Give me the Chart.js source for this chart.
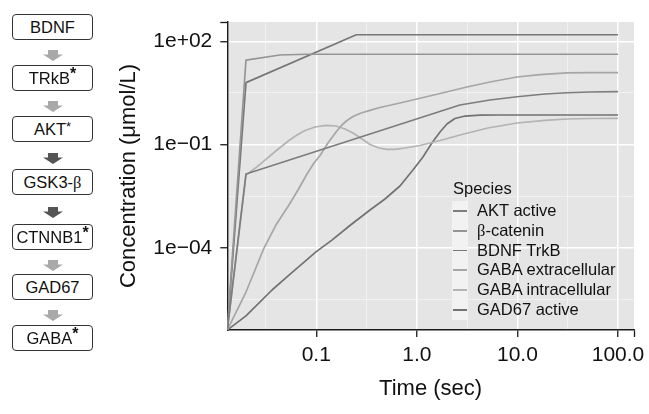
<!DOCTYPE html>
<html>
<head>
<meta charset="utf-8">
<script src="https://cdn.jsdelivr.net/npm/chart.js@4.4.1/dist/chart.umd.min.js"></script>
<style>
  html, body { margin: 0; padding: 0; background: #fff; }
  #wrap { position: relative; width: 649px; height: 414px; overflow: hidden;
          font-family: "Liberation Sans", Arial, sans-serif; color: #111; }
  #chart { position: absolute; left: 0; top: 0; }
  .box { position: absolute; left: 12px; width: 81px; height: 26px; box-sizing: border-box;
         border: 1.3px solid #333; border-radius: 4px; background: #fff;
         font-size: 16.5px; line-height: 24px; text-align: center; white-space: nowrap; }
  .box sup { font-size: 16px; font-weight: bold; line-height: 0; vertical-align: 5px; }
  .box .sm { font-size: 13px; vertical-align: 4px; font-weight: normal; }
  .greek { font-family: "Liberation Serif", "DejaVu Serif", serif; }
  .arrow { position: absolute; left: 43px; }
  #legend { position: absolute; left: 452px; top: 178px; font-size: 16.5px; }
  #legend .ttl { position: absolute; left: 1px; top: 0; line-height: 20px; white-space: nowrap; }
  #legend .key { position: absolute; left: 0; width: 16px; height: 19.8px; background: #f2f2f2; }
  #legend .key i { position: absolute; left: 1px; right: 1px; top: 9px; height: 1.8px; }
  #legend .lab { position: absolute; left: 25px; line-height: 19.8px; white-space: nowrap; }
</style>
</head>
<body>
<div id="wrap">
  <canvas id="chart" width="649" height="414"></canvas>
  <div id="diagram"></div>
  <div id="legend"></div>
</div>
<script>
// ---- values ----
// time in sec, concentration in umol/L. The run starts at t = 0, c = 0, which the
// original (ggplot, log axes) pins to the lower-left panel corner; we do the same.
const bdnfTime = [0, 0.02, 0.25, 100];
const bdnfConc = [0, 6.3, 155, 155];

const cateninTime = [0, 0.02, 0.0435, 0.08, 100];
const cateninConc = [0, 28.5, 40, 42, 42];

const aktTime = [0, 0.02, 2.68, 5.33, 9.9, 18.8, 31, 52.6, 100];
const aktConc = [0, 0.0139, 1.41, 1.97, 2.45, 2.94, 3.2, 3.36, 3.43];

const gabaInTime = [0, 0.02, 0.0252, 0.0309, 0.0407, 0.0535, 0.0643, 0.0772, 0.0971, 0.125, 0.157,
  0.193, 0.232, 0.285, 0.342, 0.42, 0.504, 0.605, 0.762, 1.07, 1.7, 2.68, 5.08, 9.9, 18.8, 31, 52.6, 100];
const gabaInConc = [0, 0.013, 0.0214, 0.0354, 0.0692, 0.131, 0.189, 0.255, 0.323, 0.361, 0.345,
  0.282, 0.216, 0.1445, 0.1, 0.0791, 0.0725, 0.0725, 0.0791, 0.0935, 0.131, 0.189, 0.302, 0.422, 0.505, 0.551, 0.57, 0.578];

const gabaExTime = [0, 0.02, 0.0246, 0.0302, 0.0397, 0.0535, 0.0658, 0.0809, 0.0949, 0.109, 0.1306,
  0.16, 0.18, 0.202, 0.232, 0.279, 0.342, 0.43, 0.679, 1, 1.7, 3.15, 5.33, 9.9, 16.7, 31, 52.6, 100];
const gabaExConc = [0, 5.15e-6, 2.25e-5, 9.8e-5, 4.57e-4, 1.74e-3, 4.75e-3, 0.0139, 0.029, 0.0479, 0.111,
  0.247, 0.369, 0.499, 0.652, 0.824, 0.986, 1.19, 1.61, 2.1, 3.04, 4.7, 6.56, 9.17, 10.8, 12.1, 12.3, 12.3];

const gadTime = [0, 0.02, 0.0363, 0.0535, 0.1, 0.143, 0.216, 0.342, 0.482, 0.679, 0.914, 1.15, 1.41,
  1.7, 1.99, 2.39, 3.01, 4.24, 6.7, 100];
const gadConc = [0, 1.05e-6, 5.9e-6, 1.6e-5, 7.7e-5, 1.67e-4, 4.42e-4, 1.25e-3, 2.61e-3, 6.22e-3, 0.0182, 0.0434, 0.111,
  0.231, 0.394, 0.57, 0.673, 0.711, 0.721, 0.721];

const speciesNames = ['AKT active', 'β-catenin', 'BDNF TrkB', 'GABA extracellular', 'GABA intracellular', 'GAD67 active'];

// axis ranges and ticks
const T_MIN = 0.01304, T_MAX = 144.2;
const C_MIN = 4.06e-7, C_MAX = 364;
const xTicks = [0.1, 1, 10, 100];
const xTickLabels = ['0.1', '1.0', '10.0', '100.0'];
const xMinor = [0.0316, 0.316, 3.16, 31.6];
const yTicks = [1e-4, 1e-1, 1e2];
const yTickLabels = ['1e\u221204', '1e\u221201', '1e+02'];
const yMinor = [3.16e-6, 3.16e-3, 3.16];

// pathway diagram
const steps = ['BDNF', 'TRkB', 'AKT', 'GSK3-β', 'CTNNB1', 'GAD67', 'GABA'];
const stepMark = ['', 'big', 'small', '', 'big', '', 'big'];
const arrowShade = ['light', 'light', 'dark', 'dark', 'light', 'light'];

// ---- styling ----
const C = {
  panel: '#e5e5e5',
  major: '#ffffff',
  minor: '#f4f4f4',
  axis: '#1a1a1a',
  text: '#111111',
  arrowLight: '#a9a9a9',
  arrowDark: '#555555',
};
const FONT = "'Liberation Sans', Arial, sans-serif";
const lineColors = ['#7d7d7d', '#959595', '#777777', '#a6a6a6', '#b3b3b3', '#727272'];
const stepCenters = [26.7, 78, 128.5, 181.5, 236.5, 287, 337.5];

const series = [
  { name: speciesNames[0], t: aktTime, c: aktConc, color: lineColors[0] },
  { name: speciesNames[1], t: cateninTime, c: cateninConc, color: lineColors[1] },
  { name: speciesNames[2], t: bdnfTime, c: bdnfConc, color: lineColors[2] },
  { name: speciesNames[3], t: gabaExTime, c: gabaExConc, color: lineColors[3] },
  { name: speciesNames[4], t: gabaInTime, c: gabaInConc, color: lineColors[4] },
  { name: speciesNames[5], t: gadTime, c: gadConc, color: lineColors[5] },
];

function toPoints(t, c) {
  // zeros can't sit on a log axis: pin them to the axis minimum like ggplot does
  return t.map((v, i) => ({ x: v > 0 ? v : T_MIN, y: c[i] > 0 ? c[i] : C_MIN }));
}

const panelBg = {
  id: 'panelBg',
  beforeDraw(chart) {
    const { ctx, chartArea: a } = chart;
    ctx.save();
    ctx.fillStyle = C.panel;
    ctx.fillRect(a.left, a.top, a.right - a.left, a.bottom - a.top);
    ctx.restore();
  },
};

function logAxis(min, max, major, labels, minor, title, extra) {
  return {
    type: 'logarithmic',
    min, max,
    bounds: 'data',
    afterBuildTicks(scale) {
      const t = [
        ...minor.map((v) => ({ value: v, kind: 'minor' })),
        ...major.map((v, i) => ({ value: v, kind: 'main', text: labels[i] })),
        { value: max, kind: 'end' },
      ];
      t.sort((a, b) => a.value - b.value);
      scale.ticks = t;
    },
    ticks: {
      autoSkip: false, maxRotation: 0, minRotation: 0,
      color: C.text,
      font: { family: FONT, size: 21 },
      callback: (v, i, ticks) => ticks[i].text || '',
      ...(extra.ticks || {}),
    },
    grid: {
      drawTicks: true,
      tickLength: 7,
      tickWidth: 1.3,
      color: (c) => (c.tick.kind === 'main' ? C.major : c.tick.kind === 'minor' ? C.minor : 'rgba(0,0,0,0)'),
      lineWidth: (c) => (c.tick.kind === 'main' ? 1.5 : 0.8),
      tickColor: (c) => (c.tick.kind === 'minor' ? 'rgba(0,0,0,0)' : C.axis),
    },
    border: { display: true, color: C.axis, width: 1.4 },
    title: {
      display: true, text: title, color: C.text,
      font: { family: FONT, size: 22 },
      ...(extra.title || {}),
    },
    afterFit: extra.afterFit,
  };
}

const chart = new Chart(document.getElementById('chart').getContext('2d'), {
  type: 'line',
  data: {
    datasets: series.map((s) => ({
      label: s.name,
      data: toPoints(s.t, s.c),
      borderColor: s.color,
      borderWidth: 1.7,
      borderJoinStyle: 'round',
      pointRadius: 0,
      tension: 0,
      fill: false,
    })),
  },
  options: {
    responsive: false,
    animation: false,
    devicePixelRatio: 1,
    layout: { padding: { left: 100, top: 22, right: 15, bottom: 0 } },
    plugins: { legend: { display: false }, tooltip: { enabled: false } },
    scales: {
      x: logAxis(T_MIN, T_MAX, xTicks, xTickLabels, xMinor, 'Time (sec)', {
        ticks: { padding: 6 },
        title: { padding: { top: 0, bottom: 12 } },
        afterFit: (s) => { s.height = 84; },
      }),
      y: logAxis(C_MIN, C_MAX, yTicks, yTickLabels, yMinor, 'Concentration (\u03bcmol/L)', {
        ticks: { padding: 8 },
        title: { padding: { top: 16, bottom: 0 } },
        afterFit: (s) => { s.width = 127.3; },
      }),
    },
  },
  plugins: [panelBg],
});

// ---- pathway diagram (left) ----
const diagram = document.getElementById('diagram');
steps.forEach((name, i) => {
  const b = document.createElement('div');
  b.className = 'box';
  b.style.top = (stepCenters[i] - 13) + 'px';
  const html = name.replace('β', '<span class="greek">β</span>');
  const mark = stepMark[i] === 'big' ? '<sup>*</sup>' : stepMark[i] === 'small' ? '<sup class="sm">*</sup>' : '';
  b.innerHTML = html + mark;
  diagram.appendChild(b);
  if (i < arrowShade.length) {
    const mid = (stepCenters[i] + stepCenters[i + 1]) / 2;
    const fillCol = arrowShade[i] === 'dark' ? C.arrowDark : C.arrowLight;
    const a = document.createElement('div');
    a.className = 'arrow';
    a.style.top = (mid - 5) + 'px';
    a.innerHTML = '<svg width="20" height="11"><polygon points="5,0 15,0 15,4.5 20,4.5 10,11 0,4.5 5,4.5" fill="' + fillCol + '"/></svg>';
    diagram.appendChild(a);
  }
});

// ---- legend (inside the panel, ggplot style) ----
const legend = document.getElementById('legend');
legend.innerHTML = '<div class="ttl">Species</div>';
series.forEach((s, i) => {
  const top = 23 + i * 19.8;
  const key = document.createElement('div');
  key.className = 'key';
  key.style.top = top + 'px';
  key.innerHTML = '<i style="background:' + s.color + '"></i>';
  legend.appendChild(key);
  const lab = document.createElement('div');
  lab.className = 'lab';
  lab.style.top = top + 'px';
  lab.innerHTML = s.name.replace('β', '<span class="greek">β</span>');
  legend.appendChild(lab);
});
</script>
</body>
</html>
